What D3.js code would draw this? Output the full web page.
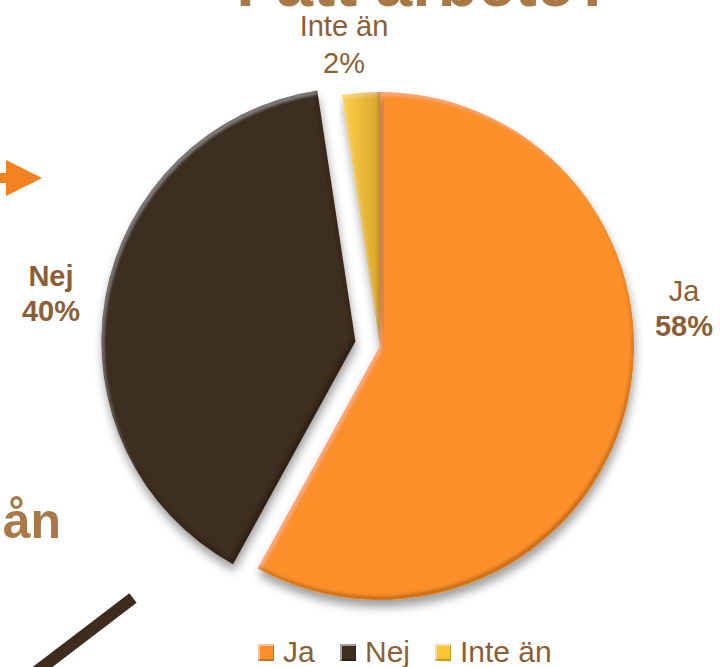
<!DOCTYPE html>
<html><head><meta charset="utf-8">
<script src="https://cdn.jsdelivr.net/npm/d3@7"></script>
<style>
html,body{margin:0;padding:0;background:#fff;}
svg{display:block;font-family:"Liberation Sans",Arial,sans-serif;}
</style></head>
<body>
<svg id="chart" width="720" height="667"></svg>
<script>
// ---- data ----
const categories = ["Ja", "Nej", "Inte än"];
const values = [58.0, 39.6, 2.4];
const colors = ["#fb8f2a", "#3e2d21", "#f8c632"];
const explode = [0, 25, 0];
const title = "Fått arbete?";

// ---- layout ----
const W = 720, H = 667;
const cx = 380, cy = 346, R = 254;
const svg = d3.select("#chart");
const defs = svg.append("defs");

// bevel + shadow filter
const f = defs.append("filter").attr("id", "bevel")
  .attr("x", "-10%").attr("y", "-10%").attr("width", "120%").attr("height", "125%");
f.append("feGaussianBlur").attr("in", "SourceAlpha").attr("stdDeviation", 5).attr("result", "sb");
f.append("feOffset").attr("in", "sb").attr("dx", 1).attr("dy", 7).attr("result", "so");
f.append("feFlood").attr("flood-color", "#000").attr("flood-opacity", 0.38).attr("result", "sc");
f.append("feComposite").attr("in", "sc").attr("in2", "so").attr("operator", "in").attr("result", "shadow");
// light rim (top/left)
f.append("feOffset").attr("in", "SourceAlpha").attr("dx", 2).attr("dy", 3).attr("result", "lo");
f.append("feComposite").attr("in", "SourceAlpha").attr("in2", "lo").attr("operator", "out").attr("result", "lrim");
f.append("feGaussianBlur").attr("in", "lrim").attr("stdDeviation", 1.8).attr("result", "lrimb");
f.append("feFlood").attr("flood-color", "#fff").attr("flood-opacity", 0.22).attr("result", "lc");
f.append("feComposite").attr("in", "lc").attr("in2", "lrimb").attr("operator", "in").attr("result", "l1");
f.append("feComposite").attr("in", "l1").attr("in2", "SourceAlpha").attr("operator", "in").attr("result", "light");
// dark rim (bottom/right)
f.append("feOffset").attr("in", "SourceAlpha").attr("dx", -2).attr("dy", -4).attr("result", "do");
f.append("feComposite").attr("in", "SourceAlpha").attr("in2", "do").attr("operator", "out").attr("result", "drim");
f.append("feGaussianBlur").attr("in", "drim").attr("stdDeviation", 1.4).attr("result", "drimb");
f.append("feFlood").attr("flood-color", "#000").attr("flood-opacity", 0.45).attr("result", "dc");
f.append("feComposite").attr("in", "dc").attr("in2", "drimb").attr("operator", "in").attr("result", "d1");
f.append("feComposite").attr("in", "d1").attr("in2", "SourceAlpha").attr("operator", "in").attr("result", "dark");
const m = f.append("feMerge");
m.append("feMergeNode").attr("in", "shadow");
m.append("feMergeNode").attr("in", "SourceGraphic");
m.append("feMergeNode").attr("in", "light");
m.append("feMergeNode").attr("in", "dark");

// small bevel for legend markers
const f2 = defs.append("filter").attr("id", "bevelSmall");
f2.append("feOffset").attr("in", "SourceAlpha").attr("dx", 2).attr("dy", 2).attr("result", "lo");
f2.append("feComposite").attr("in", "SourceAlpha").attr("in2", "lo").attr("operator", "out").attr("result", "lrim");
f2.append("feFlood").attr("flood-color", "#fff").attr("flood-opacity", 0.35).attr("result", "lc");
f2.append("feComposite").attr("in", "lc").attr("in2", "lrim").attr("operator", "in").attr("result", "light");
f2.append("feOffset").attr("in", "SourceAlpha").attr("dx", -1).attr("dy", -2).attr("result", "do");
f2.append("feComposite").attr("in", "SourceAlpha").attr("in2", "do").attr("operator", "out").attr("result", "drim");
f2.append("feFlood").attr("flood-color", "#000").attr("flood-opacity", 0.4).attr("result", "dc");
f2.append("feComposite").attr("in", "dc").attr("in2", "drim").attr("operator", "in").attr("result", "dark");
const m2 = f2.append("feMerge");
m2.append("feMergeNode").attr("in", "SourceGraphic");
m2.append("feMergeNode").attr("in", "light");
m2.append("feMergeNode").attr("in", "dark");

// yellow gradient
const yg = defs.append("linearGradient").attr("id", "ygrad").attr("x1", 0).attr("y1", 0).attr("x2", 1).attr("y2", 0);
yg.append("stop").attr("offset", "0%").attr("stop-color", "#fbd048");
yg.append("stop").attr("offset", "100%").attr("stop-color", "#d9a72a");

// ---- slide decorations (partially visible) ----
const labelColor = "#8a5f37";
const titleColor = "#a87946";
svg.append("text").attr("x", 425).attr("y", 6).attr("text-anchor", "middle")
  .attr("font-size", 66).attr("font-weight", "bold").attr("fill", titleColor).text(title);
svg.append("text").attr("x", 61).attr("y", 538).attr("text-anchor", "end")
  .attr("font-size", 50).attr("font-weight", "bold").attr("fill", titleColor).text("ån");
svg.append("path").attr("d", "M0,173 L6,173 L6,160 L42,178 L6,196 L6,183 L0,183 Z").attr("fill", "#f58220");
svg.append("line").attr("x1", 36).attr("y1", 672).attr("x2", 133).attr("y2", 598)
  .attr("stroke", "#3e2c1e").attr("stroke-width", 12);

// ---- pie ----
const pie = d3.pie().sort(null).value(d => d.v).startAngle(0).endAngle(2 * Math.PI);
const data = categories.map((c, i) => ({ c, v: values[i], i }));
const arcs = pie(data);
const arc = d3.arc().innerRadius(0).outerRadius(R);

const g = svg.append("g").attr("transform", `translate(${cx},${cy})`);
g.selectAll("path.slice").data(arcs).join("path")
  .attr("class", "slice")
  .attr("d", arc)
  .attr("fill", d => d.data.i === 2 ? "url(#ygrad)" : colors[d.data.i])
  .attr("filter", "url(#bevel)")
  .attr("transform", d => {
    const a = (d.startAngle + d.endAngle) / 2;
    const e = explode[d.data.i];
    return `translate(${e * Math.sin(a)},${-e * Math.cos(a)})`;
  });

// ---- data labels ----
const labelPos = [
  { x: 684, y1: 301, y2: 336, w1: "normal", w2: "bold" },
  { x: 51, y1: 286, y2: 321, w1: "bold", w2: "bold" },
  { x: 344, y1: 36, y2: 73, w1: "normal", w2: "normal" }
];
const lg = svg.append("g");
data.forEach((d, i) => {
  const p = labelPos[i];
  const t = lg.append("text").attr("text-anchor", "middle").attr("fill", labelColor).attr("font-size", 29);
  t.append("tspan").attr("x", p.x).attr("y", p.y1).attr("font-weight", p.w1).text(d.c);
  t.append("tspan").attr("x", p.x).attr("y", p.y2).attr("font-weight", p.w2).text(Math.round(d.v) + "%");
});

// ---- legend ----
const legX = [258, 340, 435];
const leg = svg.append("g");
data.forEach((d, i) => {
  leg.append("rect").attr("x", legX[i]).attr("y", 644).attr("width", 16).attr("height", 17)
    .attr("fill", colors[i]).attr("filter", "url(#bevelSmall)");
  leg.append("text").attr("x", legX[i] + 25).attr("y", 662).attr("font-size", 30)
    .attr("fill", labelColor).text(d.c);
});
</script>
</body></html>
